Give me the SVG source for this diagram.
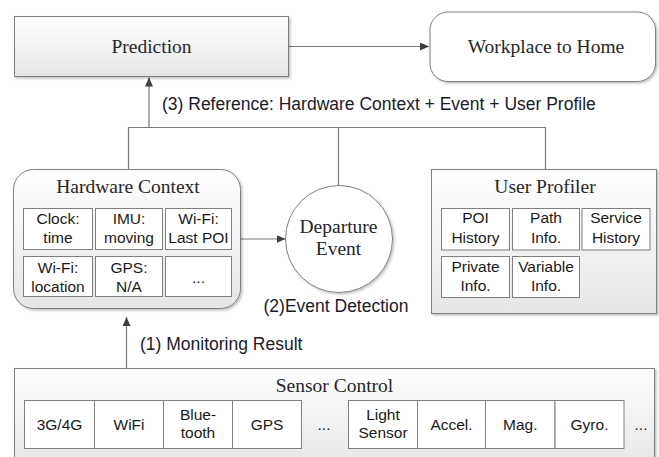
<svg xmlns="http://www.w3.org/2000/svg" width="659" height="457" viewBox="0 0 659 457">
<defs>
<linearGradient id="g" x1="0" y1="0" x2="0" y2="1">
<stop offset="0" stop-color="#ffffff"/>
<stop offset="1" stop-color="#e6e6e6"/>
</linearGradient>
<filter id="sh" x="-5%" y="-5%" width="112%" height="115%">
<feDropShadow dx="1.5" dy="1.5" stdDeviation="1.2" flood-color="#000" flood-opacity="0.25"/>
</filter>
<marker id="arr" markerUnits="userSpaceOnUse" markerWidth="10" markerHeight="8" refX="9" refY="4" orient="auto">
<path d="M0,0 L9,4 L0,8 z" fill="#3f3f3f"/>
</marker>
<style>
.box{fill:url(#g);stroke:#7f7f7f;stroke-width:1;filter:url(#sh)}
.wbox{fill:#fff;stroke:#7f7f7f;stroke-width:1;filter:url(#sh)}
.cell{fill:#fff;stroke:#7f7f7f;stroke-width:1}
.con{stroke:#7a7a7a;stroke-width:1.2;fill:none}
.ttl{font-family:"Liberation Serif","Times New Roman",serif;font-size:19.5px;fill:#262626;text-anchor:middle}
.ct{font-family:"Liberation Sans",Arial,sans-serif;font-size:15.5px;fill:#1a1a1a;text-anchor:middle}
.lbl{font-family:"Liberation Sans",Arial,sans-serif;font-size:17.5px;fill:#1a1a2a}
</style>
</defs>
<rect width="659" height="457" fill="#fff"/>

<g id="connectors">
<line class="con" x1="288.5" y1="46.5" x2="429" y2="46.5" marker-end="url(#arr)"/>
<line class="con" x1="149" y1="127.5" x2="149" y2="77.5" marker-end="url(#arr)"/>
<polyline class="con" points="128.5,169.5 128.5,127.5 545.5,127.5 545.5,169.5"/>
<line class="con" x1="338.5" y1="127.5" x2="338.5" y2="185.5"/>
<line class="con" x1="241" y1="239" x2="285.5" y2="239" marker-end="url(#arr)"/>
<line class="con" x1="126.5" y1="368.5" x2="126.5" y2="317" marker-end="url(#arr)"/>
<text class="lbl" x="162" y="110">(3) Reference: Hardware Context + Event + User Profile</text>
<text class="lbl" x="263.5" y="311.7">(2)Event Detection</text>
<text class="lbl" x="140" y="350">(1) Monitoring Result</text>
</g>

<g id="prediction">
<rect class="box" x="14.5" y="16.5" width="274" height="60"/>
<text class="ttl" x="151.5" y="53">Prediction</text>
</g>

<g id="workplace">
<rect class="wbox" x="430" y="12" width="225.5" height="69.5" rx="18"/>
<text class="ttl" x="546" y="52.7">Workplace to Home</text>
</g>

<g id="hardware">
<rect class="box" x="13.5" y="169.5" width="227" height="139" rx="20"/>
<text class="ttl" x="128" y="193.3">Hardware Context</text>
<rect class="cell" x="23.5" y="208.5" width="69" height="41"/>
<rect class="cell" x="95.5" y="208.5" width="67" height="41"/>
<rect class="cell" x="165.5" y="208.5" width="66" height="41"/>
<rect class="cell" x="23.5" y="256.5" width="69" height="40"/>
<rect class="cell" x="95.5" y="256.5" width="67" height="40"/>
<rect class="cell" x="165.5" y="256.5" width="66" height="40"/>
<text class="ct" x="58" y="224">Clock:</text>
<text class="ct" x="58" y="243.3">time</text>
<text class="ct" x="129" y="224">IMU:</text>
<text class="ct" x="129" y="243.3">moving</text>
<text class="ct" x="198.5" y="224">Wi-Fi:</text>
<text class="ct" x="198.5" y="243.3">Last POI</text>
<text class="ct" x="58" y="273.3">Wi-Fi:</text>
<text class="ct" x="58" y="291.7">location</text>
<text class="ct" x="129" y="273.3">GPS:</text>
<text class="ct" x="129" y="291.7">N/A</text>
<text class="ct" x="198.5" y="283">...</text>
</g>

<g id="departure">
<circle class="wbox" cx="339" cy="239" r="53.5"/>
<text class="ttl" x="338.5" y="232.7">Departure</text>
<text class="ttl" x="338.5" y="255">Event</text>
</g>

<g id="userprofiler">
<rect class="box" x="431.5" y="169.5" width="225" height="144"/>
<text class="ttl" x="545" y="193.3">User Profiler</text>
<rect class="cell" x="441.5" y="208.5" width="68" height="41.5"/>
<rect class="cell" x="512.5" y="208.5" width="67" height="41.5"/>
<rect class="cell" x="582" y="208.5" width="68" height="41.5"/>
<rect class="cell" x="441.5" y="256.5" width="68" height="41"/>
<rect class="cell" x="512.5" y="256.5" width="67" height="41"/>
<text class="ct" x="475.5" y="223.3">POI</text>
<text class="ct" x="475.5" y="242.7">History</text>
<text class="ct" x="546" y="223.3">Path</text>
<text class="ct" x="546" y="242.7">Info.</text>
<text class="ct" x="616" y="223.3">Service</text>
<text class="ct" x="616" y="242.7">History</text>
<text class="ct" x="475.5" y="271.7">Private</text>
<text class="ct" x="475.5" y="291">Info.</text>
<text class="ct" x="546" y="271.7">Variable</text>
<text class="ct" x="546" y="291">Info.</text>
</g>

<g id="sensorcontrol">
<rect class="box" x="14.5" y="368.5" width="640" height="100"/>
<text class="ttl" x="334.5" y="391.7">Sensor Control</text>
<rect class="cell" x="24.5" y="400.5" width="70" height="48"/>
<rect class="cell" x="94.5" y="400.5" width="69" height="48"/>
<rect class="cell" x="163.5" y="400.5" width="69" height="48"/>
<rect class="cell" x="232.5" y="400.5" width="69" height="48"/>
<rect class="cell" x="348.5" y="400.5" width="69" height="48"/>
<rect class="cell" x="417.5" y="400.5" width="68" height="48"/>
<rect class="cell" x="485.5" y="400.5" width="69.5" height="48"/>
<rect class="cell" x="555" y="400.5" width="69" height="48"/>
<text class="ct" x="59.5" y="430">3G/4G</text>
<text class="ct" x="129" y="430">WiFi</text>
<text class="ct" x="198" y="420">Blue-</text>
<text class="ct" x="198" y="438.3">tooth</text>
<text class="ct" x="267" y="430">GPS</text>
<text class="ct" x="324" y="430">...</text>
<text class="ct" x="383" y="420">Light</text>
<text class="ct" x="383" y="438.3">Sensor</text>
<text class="ct" x="451.5" y="430">Accel.</text>
<text class="ct" x="520.3" y="430">Mag.</text>
<text class="ct" x="589.5" y="430">Gyro.</text>
<text class="ct" x="641" y="430">...</text>
</g>
</svg>
